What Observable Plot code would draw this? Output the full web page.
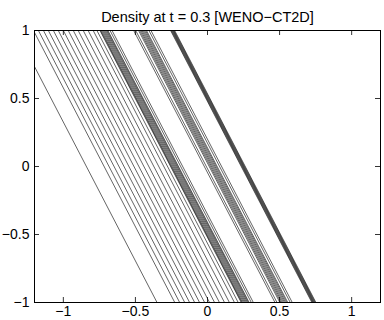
<!DOCTYPE html>
<html>
<head>
<meta charset="utf-8">
<script src="https://cdn.jsdelivr.net/npm/d3@7"></script>
<script src="https://cdn.jsdelivr.net/npm/@observablehq/plot@0.6"></script>
<style>
  html, body { margin: 0; padding: 0; background: #fff; }
  #chart svg { display: block; }
</style>
</head>
<body>
<div id="chart"></div>
<script>
// ---- chart data ----
const title = "Density at t = 0.3 [WENO\u2212CT2D]";
const xDomain = [-1.2, 1.2];
const yDomain = [-1, 1];
const xTicks = [-1, -0.5, 0, 0.5, 1];
const yTicks = [-1, -0.5, 0, 0.5, 1];

// level curves are straight lines x = s + slope * y ; s = crossing of y = 0
const slope = -0.49;
const fanHead = [-0.84];
const rarefaction = [-0.717, -0.683, -0.648, -0.614, -0.579, -0.545, -0.510,
                     -0.476, -0.441, -0.407, -0.372, -0.338, -0.303];
const compoundWave = [-0.277, -0.256, -0.252, -0.247, -0.240, -0.233, -0.226,
                      -0.219, -0.212, -0.206, -0.201, -0.186, -0.172];
const contactWave = [-0.022, -0.008, 0.012, 0.020, 0.028, 0.036, 0.044, 0.052,
                     0.060, 0.067, 0.084, 0.098];
const shockWave = [0.234, 0.238, 0.242, 0.246, 0.250, 0.254, 0.258, 0.262];

const levels = [...fanHead, ...rarefaction, ...compoundWave, ...contactWave, ...shockWave];

const W = 384, H = 320;
const mt = 30, mb = 18, ml = 34, mr = 4;
const innerW = W - ml - mr, innerH = H - mt - mb;
const tick = 5;
const font = "Liberation Sans, Arial, Helvetica, sans-serif";
const fmt = d3.format("~g");

const chart = Plot.plot({
  width: W,
  height: H,
  marginTop: mt,
  marginBottom: mb,
  marginLeft: ml,
  marginRight: mr,
  style: { fontFamily: font, fontSize: "14px", background: "#fff", color: "#000" },
  x: { domain: xDomain, axis: null },
  y: { domain: yDomain, axis: null },
  marks: [
    // level curves
    Plot.link(levels, {
      x1: s => s + slope * yDomain[0], y1: () => yDomain[0],
      x2: s => s + slope * yDomain[1], y2: () => yDomain[1],
      stroke: "#222", strokeWidth: 0.7, clip: true
    }),
    // inward ticks on all four sides
    Plot.ruleX(xTicks, { insetTop: innerH - tick, stroke: "#000", strokeWidth: 0.8 }),
    Plot.ruleX(xTicks, { insetBottom: innerH - tick, stroke: "#000", strokeWidth: 0.8 }),
    Plot.ruleY(yTicks, { insetRight: innerW - tick, stroke: "#000", strokeWidth: 0.8 }),
    Plot.ruleY(yTicks, { insetLeft: innerW - tick, stroke: "#000", strokeWidth: 0.8 }),
    Plot.frame({ stroke: "#000", strokeWidth: 1 }),
    Plot.axisX(xTicks, { anchor: "bottom", tickSize: 0, tickPadding: 4, fontSize: 14, label: null, tickFormat: fmt }),
    Plot.axisY(yTicks, { anchor: "left", tickSize: 0, tickPadding: 5, fontSize: 14, label: null, tickFormat: fmt }),
    Plot.text([title], { frameAnchor: "top", dy: -19, fontSize: 14.5, fill: "#000" })
  ]
});
document.getElementById("chart").appendChild(chart);
</script>
</body>
</html>
